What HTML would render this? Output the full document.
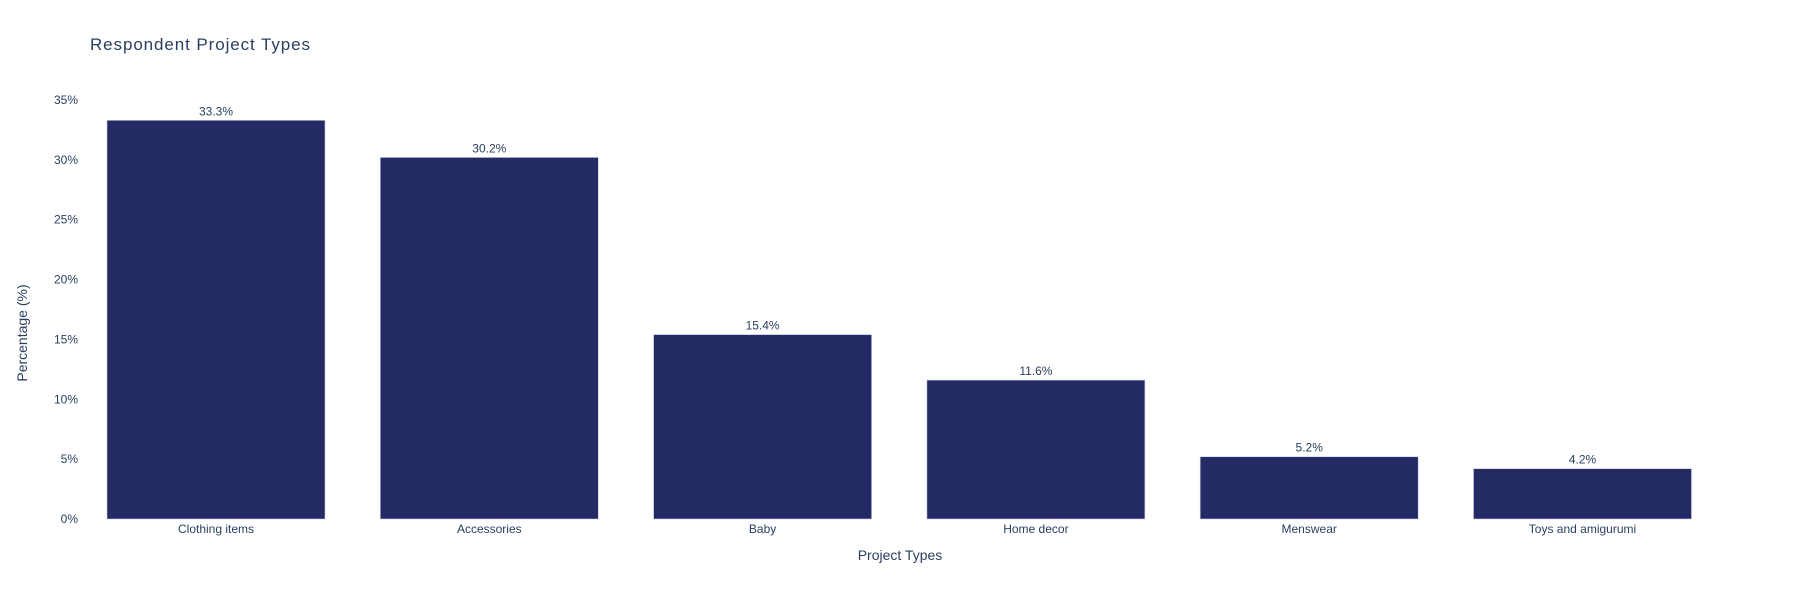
<!DOCTYPE html>
<html><head><meta charset="utf-8"><style>
body{margin:0;background:#fff;}
svg{display:block;font-family:"Liberation Sans",Arial,sans-serif;fill:#2a3f5f;}
</style></head><body>
<svg id="chart" width="1800" height="600">
<text x="90" y="50" font-size="17" textLength="220">Respondent Project Types</text>
<g id="yaxis"></g>
<g id="bars"></g>
<g id="xaxis"></g>
<text x="900" y="560" font-size="14" text-anchor="middle">Project Types</text>
<text transform="translate(27,333) rotate(-90)" font-size="14" text-anchor="middle">Percentage (%)</text>
</svg>
<script>
const categories = ["Clothing items","Accessories","Baby","Home decor","Menswear","Toys and amigurumi"];
const values = [33.3,30.2,15.4,11.6,5.2,4.2];
const valueLabels = ["33.3%","30.2%","15.4%","11.6%","5.2%","4.2%"];
const yTicks = [0,5,10,15,20,25,30,35];
const yTickLabels = ["0%","5%","10%","15%","20%","25%","30%","35%"];

const NS="http://www.w3.org/2000/svg";
const band=273.3, barW=218, plotL=107-(band-barW)/2, y0=519, pxPer=11.972;
const yScale=v=>y0-v*pxPer;
const xCenter=i=>plotL+band*(i+0.5);
function mk(tag,attrs,parent,txt){const e=document.createElementNS(NS,tag);for(const k in attrs)e.setAttribute(k,attrs[k]);if(txt!==undefined)e.textContent=txt;parent.appendChild(e);return e;}
const ya=document.getElementById('yaxis'),bg=document.getElementById('bars'),xa=document.getElementById('xaxis');
yTicks.forEach((t,i)=>{
  const el=mk('text',{x:78,y:yScale(t)+4,'font-size':12,'text-anchor':'end'},ya,yTickLabels[i]);
  
  
});
categories.forEach((c,i)=>{
  const cx=xCenter(i), top=yScale(values[i]);
  const r=mk('rect',{x:cx-barW/2,y:top,width:barW,height:y0-top,fill:'#242a63',stroke:'#c8cce0','stroke-width':0.6},bg);
  
  
  const v=mk('text',{x:cx,y:top-5,'font-size':12,'text-anchor':'middle'},bg,valueLabels[i]);
  
  
  const l=mk('text',{x:cx,y:533,'font-size':12,'text-anchor':'middle'},xa,c);
  
  
});
</script>
</body></html>
